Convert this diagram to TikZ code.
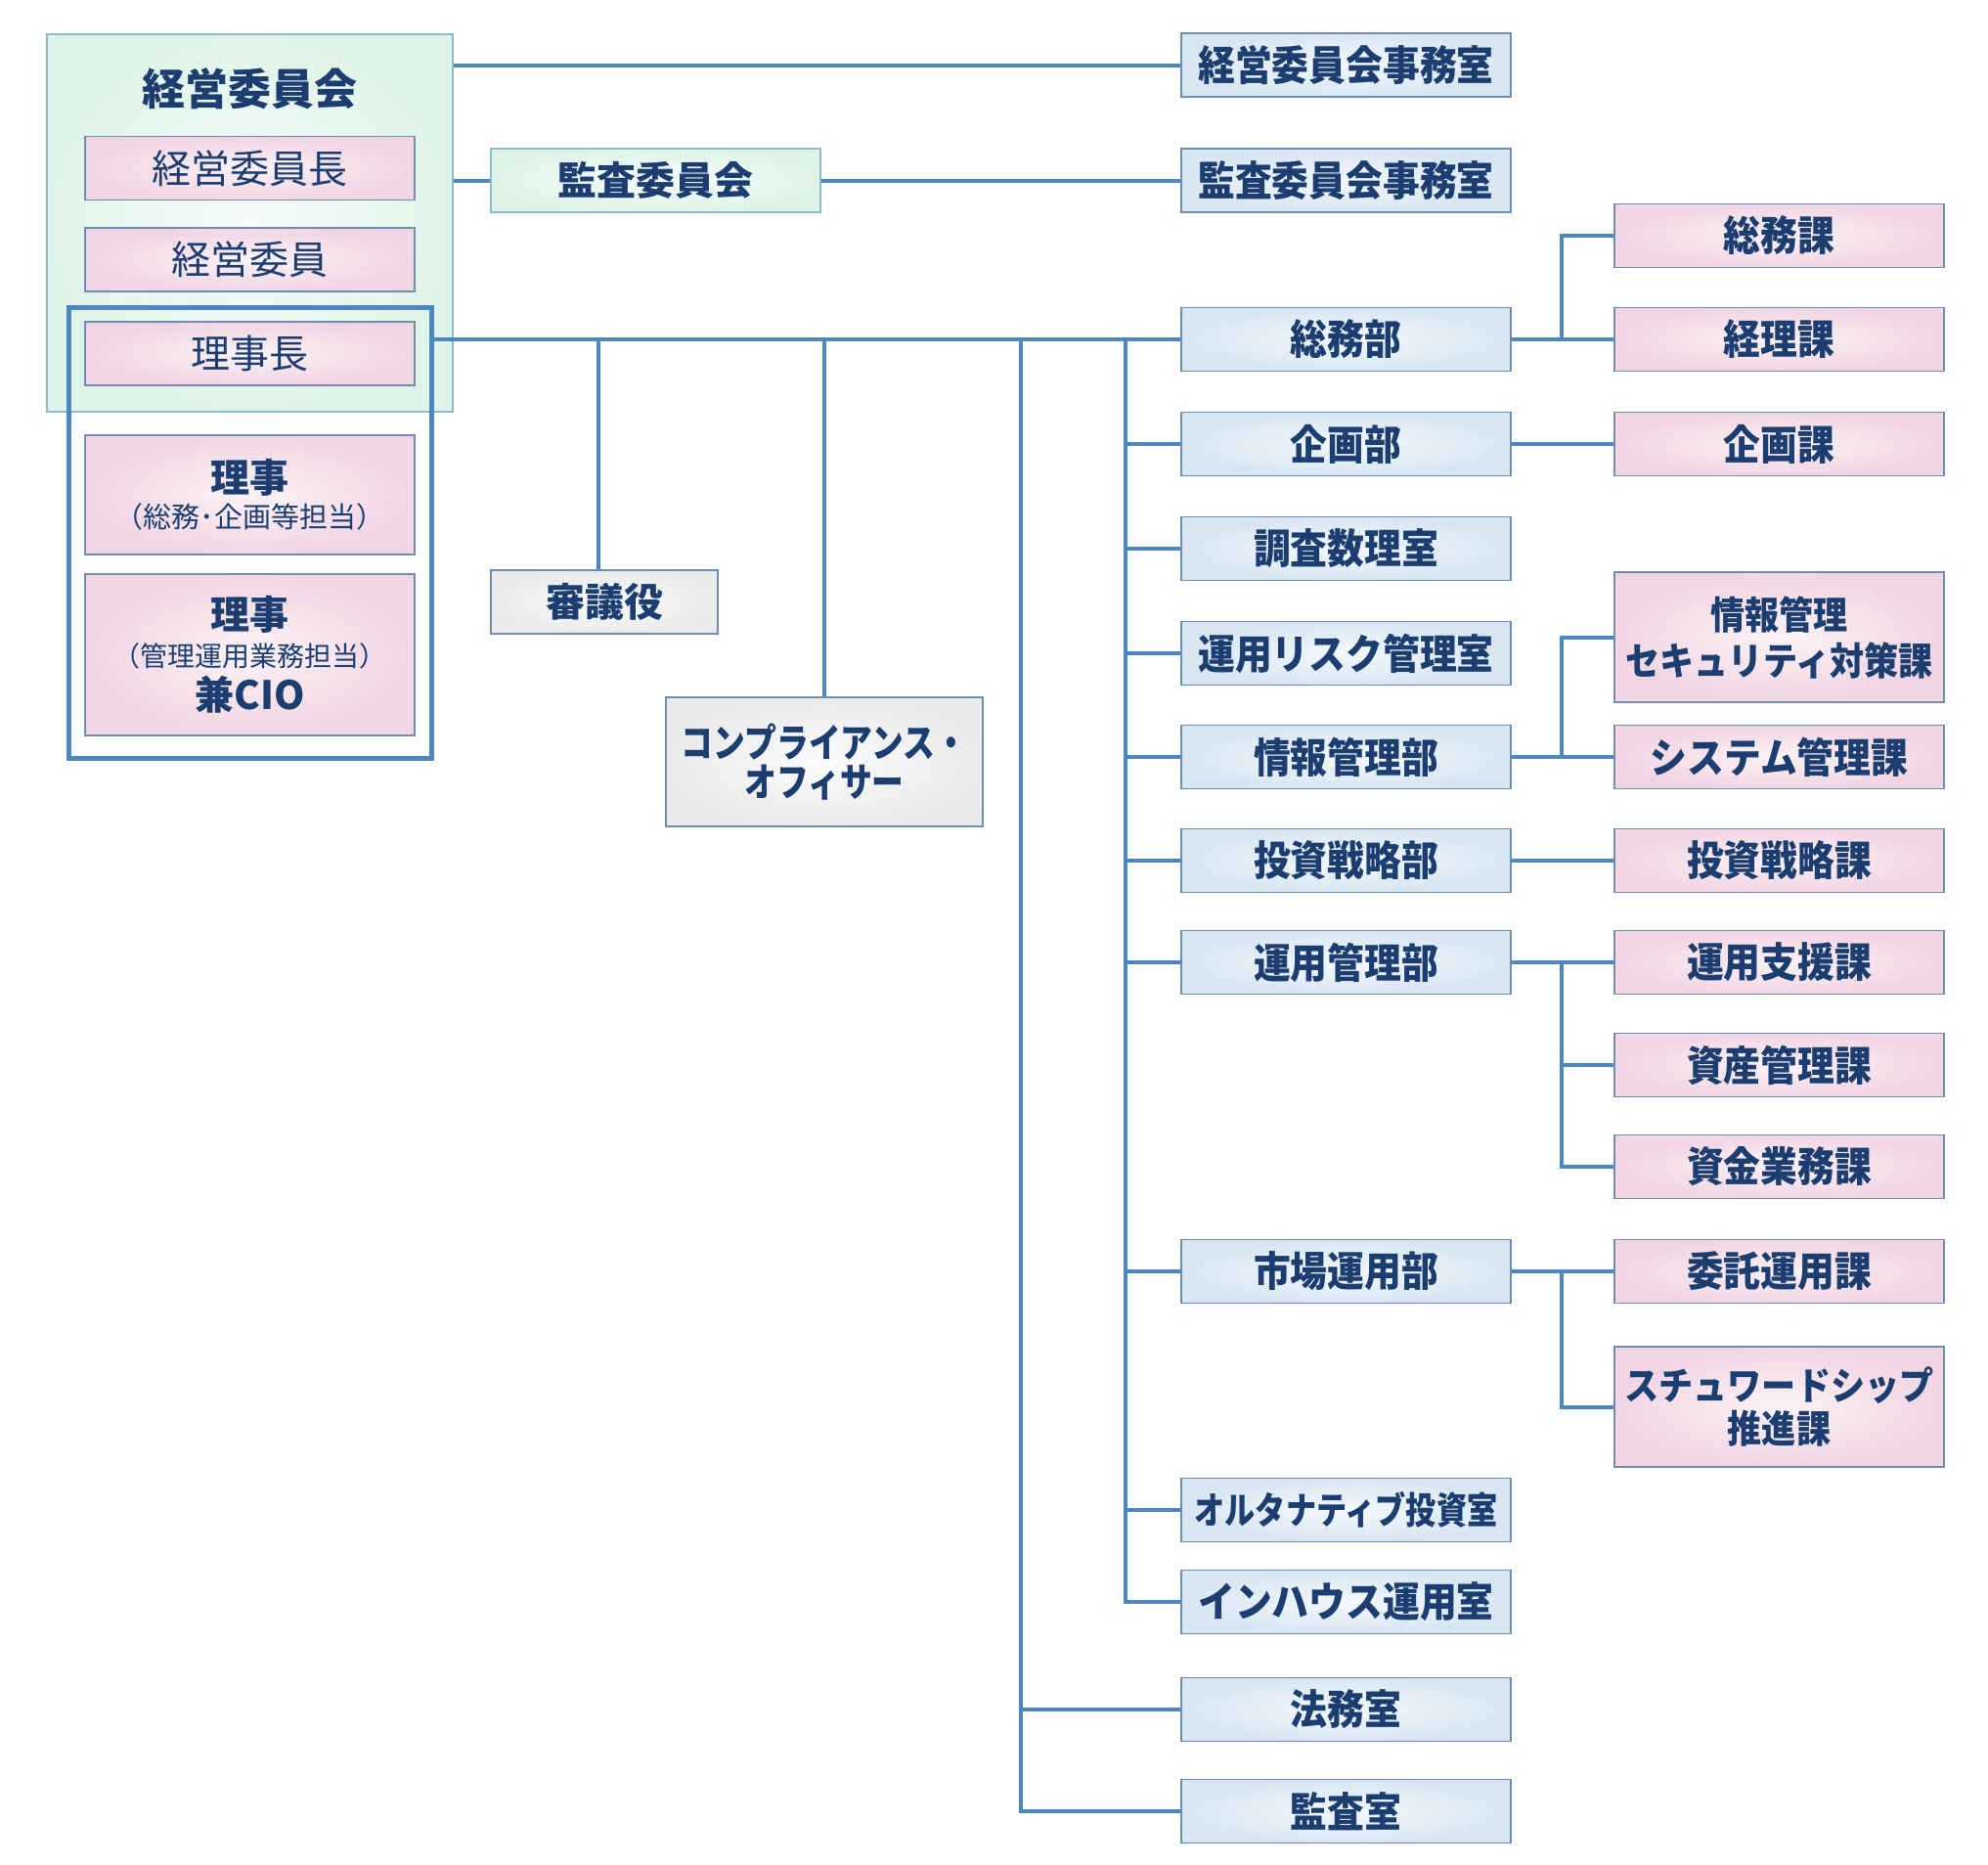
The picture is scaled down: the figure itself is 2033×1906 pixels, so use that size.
\documentclass[tikz,border=0pt]{standalone}
\usepackage{fontspec}
\setmainfont{Noto Sans CJK JP}
\newfontfamily\jpn{Noto Sans CJK JP}[FakeStretch=0.9]
\newfontfamily\jpk{Noto Sans CJK JP}[FakeStretch=0.82]
\definecolor{navy}{HTML}{1B3D70}
\definecolor{edge}{HTML}{6F8DAE}
\definecolor{greenedge}{HTML}{8DBBCB}
\definecolor{linkblue}{HTML}{4C87C1}
\definecolor{bluein}{HTML}{F3F8FC}
\definecolor{blueout}{HTML}{D8E6F2}
\definecolor{pinkin}{HTML}{FBF2F6}
\definecolor{pinkout}{HTML}{F1D5E2}
\definecolor{greenin}{HTML}{F6FCF9}
\definecolor{greenout}{HTML}{DFF4E9}
\definecolor{grayin}{HTML}{FBFBFB}
\definecolor{grayout}{HTML}{E9EAEC}

\begin{document}
\begin{tikzpicture}[x=0.5pt,y=0.5pt]
            \tikzstyle{every node}+=[inner sep=0pt]
            \tikzstyle{box}=[draw=edge, line width=0.7pt, text=navy, align=center, minimum width=168.5pt, minimum height=32.5pt]
            \tikzstyle{bu}=[box, inner color=bluein, outer color=blueout, font=\jpn\bfseries\fontsize{21}{23}\selectfont]
            \tikzstyle{ka}=[box, inner color=pinkin, outer color=pinkout, font=\jpn\bfseries\fontsize{21}{23}\selectfont]
            \tikzstyle{yakuin}=[box, inner color=pinkin, outer color=pinkout, font=\fontsize{20}{22}\selectfont]
            \tikzstyle{iinkai}=[box, draw=greenedge, inner color=greenin, outer color=greenout, font=\bfseries\fontsize{20}{22}\selectfont]
            \tikzstyle{sonota}=[box, inner color=grayin, outer color=grayout, font=\bfseries\fontsize{20}{22}\selectfont]
            \tikzstyle{link}=[draw=linkblue, line width=2pt]
            \useasboundingbox (0,0) rectangle (2033,-1906);
            \node [iinkai, minimum width=207.5pt, minimum height=193pt] (keiei) at (255.5,-228) {};
            \node [text=navy, font=\bfseries\fontsize{22}{24}\selectfont] (keieititle) at (255.5,-91) {経営委員会};
            \node [draw=linkblue, line width=2.5pt, minimum width=185.5pt, minimum height=230.5pt] (rijikai) at (255.5,-544.5) {};
            \node [yakuin] (iinchou) at (255.5,-172) {経営委員長};
            \node [yakuin] (iin) at (255.5,-265.5) {経営委員};
            \node [yakuin] (rijichou) at (255.5,-361.5) {理事長};
            \node [yakuin, minimum height=61pt, font=\fontsize{20}{18}\selectfont] (riji1) at (255.5,-506) {{\bfseries 理事}\\{\fontsize{14.5}{15}\selectfont （総務･企画等担当）}};
            \node [yakuin, minimum height=82.5pt, font=\fontsize{20}{19}\selectfont] (riji2) at (255.5,-669.5) {{\bfseries 理事}\\{\fontsize{14}{15}\selectfont （管理運用業務担当）}\\[3pt]{\bfseries 兼CIO}};
            \node [iinkai] (kansaiinkai) at (670.5,-184.5) {監査委員会};
            \node [sonota, minimum width=116pt] (shingi) at (618,-615.5) {審議役};
            \node [sonota, minimum width=162pt, minimum height=66pt, font=\jpk\bfseries\fontsize{20}{20}\selectfont] (compl) at (843,-779) {コンプライアンス・\\オフィサー};
            \node [bu] (keieijimu) at (1376.5,-66.5) {経営委員会事務室};
            \node [bu] (kansajimu) at (1376.5,-184.5) {監査委員会事務室};
            \node [bu] (soumubu) at (1376.5,-347) {総務部};
            \node [bu] (kikakubu) at (1376.5,-454) {企画部};
            \node [bu] (chousa) at (1376.5,-561) {調査数理室};
            \node [bu] (risk) at (1376.5,-668) {運用リスク管理室};
            \node [bu] (jouhoubu) at (1376.5,-774) {情報管理部};
            \node [bu] (toushibu) at (1376.5,-880) {投資戦略部};
            \node [bu] (unyoubu) at (1376.5,-984) {運用管理部};
            \node [bu] (shijoubu) at (1376.5,-1300) {市場運用部};
            \node [bu, font=\jpk\bfseries\fontsize{19}{21}\selectfont] (alt) at (1376.5,-1544) {オルタナティブ投資室};
            \node [bu] (inhouse) at (1376.5,-1638) {インハウス運用室};
            \node [bu] (houmu) at (1376.5,-1748) {法務室};
            \node [bu] (kansa) at (1376.5,-1852) {監査室};
            \node [ka] (soumuka) at (1819.5,-241) {総務課};
            \node [ka] (keiri) at (1819.5,-347) {経理課};
            \node [ka] (kikakuka) at (1819.5,-454) {企画課};
            \node [ka, minimum height=66.5pt, font=\jpn\bfseries\fontsize{19.5}{23.5}\selectfont] (security) at (1819.5,-651.5) {情報管理\\セキュリティ対策課};
            \node [ka] (system) at (1819.5,-774) {システム管理課};
            \node [ka] (toushika) at (1819.5,-880) {投資戦略課};
            \node [ka] (shien) at (1819.5,-984) {運用支援課};
            \node [ka] (shisan) at (1819.5,-1089) {資産管理課};
            \node [ka] (shikin) at (1819.5,-1193) {資金業務課};
            \node [ka] (itaku) at (1819.5,-1300) {委託運用課};
            \node [ka, minimum height=61.5pt, font=\jpn\bfseries\fontsize{19.5}{22}\selectfont] (steward) at (1819.5,-1438.5) {スチュワードシップ\\推進課};
            \coordinate (trunk) at (1151,-347);
            \coordinate (trunkb) at (1044,-347);
            \coordinate (br) at (1597,0);
            \draw [link] (keiei.east |- keieijimu.west) -- (keieijimu.west);
            \draw [link] (keiei.east |- kansaiinkai.west) -- (kansaiinkai.west);
            \draw [link] (kansaiinkai.east) -- (kansajimu.west);
            \draw [link] (rijikai.east |- soumubu.west) -- (soumubu.west);
            \draw [link] ([xshift=-3pt]shingi.north) -- ([xshift=-3pt]shingi.north |- soumubu.west);
            \draw [link] (compl.north) -- (compl.north |- soumubu.west);
            \draw [link] (trunk) |- (inhouse.west);
            \foreach \n in {kikakubu,chousa,risk,jouhoubu,toushibu,unyoubu,shijoubu,alt}
                \draw [link] (trunk |- \n.west) -- (\n.west);
            \draw [link] (trunkb) |- (kansa.west);
            \draw [link] (trunkb |- houmu.west) -- (houmu.west);
            \draw [link] (soumubu.east) -- (keiri.west);
            \draw [link] (soumubu.east -| br) |- (soumuka.west);
            \draw [link] (kikakubu.east) -- (kikakuka.west);
            \draw [link] (jouhoubu.east) -- (system.west);
            \draw [link] (jouhoubu.east -| br) |- (security.west);
            \draw [link] (toushibu.east) -- (toushika.west);
            \draw [link] (unyoubu.east) -- (shien.west);
            \draw [link] (unyoubu.east -| br) |- (shikin.west);
            \draw [link] (br |- shisan.west) -- (shisan.west);
            \draw [link] (shijoubu.east) -- (itaku.west);
            \draw [link] (shijoubu.east -| br) |- (steward.west);
        \end{tikzpicture}
\end{document}
